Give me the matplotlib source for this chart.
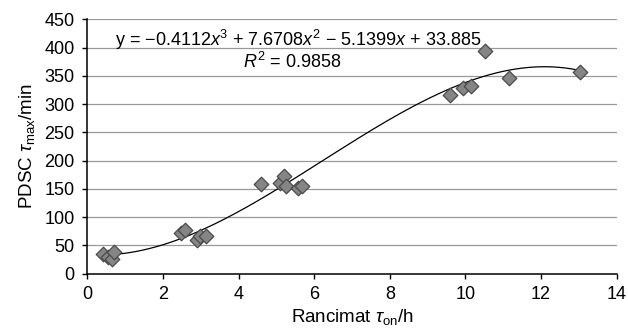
import numpy as np
import matplotlib
matplotlib.use("Agg")
import matplotlib.pyplot as plt

plt.rcParams['font.family'] = ['Liberation Sans', 'DejaVu Sans']
plt.rcParams['mathtext.fontset'] = 'custom'
plt.rcParams['mathtext.rm'] = 'Liberation Sans'
plt.rcParams['mathtext.it'] = 'Liberation Sans:italic'
plt.rcParams['mathtext.bf'] = 'Liberation Sans:bold'

# Data
rancimat_h = [0.42, 0.56, 0.645, 0.71, 2.47, 2.58, 2.89, 2.98, 3.13,
              4.59, 5.10, 5.21, 5.25, 5.58, 5.67,
              9.60, 9.93, 10.15, 10.52, 11.16, 13.02]
pdsc_min = [34.5, 30, 25.7, 38.6, 71, 78, 59, 66, 66,
            158, 160, 172.6, 155, 151, 155,
            317, 329, 332, 394.6, 345.6, 357]

# Trendline coefficients (cubic) as shown on chart
coef = [-0.4112, 7.6708, -5.1399, 33.885]
trend_range = [0.45, 13.0]

x_ticks = [0, 2, 4, 6, 8, 10, 12, 14]
y_ticks = [0, 50, 100, 150, 200, 250, 300, 350, 400, 450]

fig = plt.figure(figsize=(6.28, 3.30), dpi=100)
ax = fig.add_axes([0.139, 0.171, 0.843, 0.770])

for yv in y_ticks[1:]:
    ax.axhline(yv, color='#999999', lw=0.9, zorder=0)

xs = np.linspace(trend_range[0], trend_range[1], 300)
ax.plot(xs, np.polyval(coef, xs), color='black', lw=0.9, zorder=2)

ax.scatter(rancimat_h, pdsc_min, marker='D', s=55, facecolor='#858585',
           edgecolor='#4a4a4a', linewidths=0.9, zorder=3)

ax.set_xlim(0, 14)
ax.set_ylim(0, 450)
ax.set_xticks(x_ticks)
ax.set_yticks(y_ticks)
ax.tick_params(labelsize=13, direction='out', length=3.6, width=1, colors='black')
ax.tick_params(axis='y', pad=5.5)
ax.tick_params(axis='x', pad=5)
for s in ['top', 'right']:
    ax.spines[s].set_visible(False)
for s in ['left', 'bottom']:
    ax.spines[s].set_linewidth(1.1)

ax.set_xlabel(r'Rancimat $\tau_{\mathrm{on}}$/h', fontsize=13.5, labelpad=3)
ax.set_ylabel(r'PDSC $\tau_{\mathrm{max}}$/min', fontsize=13.5, labelpad=5)

ax.text(5.59, 413, r'y = $-$0.4112$x^3$ + 7.6708$x^2$ $-$ 5.1399$x$ + 33.885',
        ha='center', va='center', fontsize=13, zorder=2)
ax.text(5.43, 374, r'$R^2$ = 0.9858', ha='center', va='center', fontsize=13, zorder=2)

fig.savefig('out.png', dpi=100)
